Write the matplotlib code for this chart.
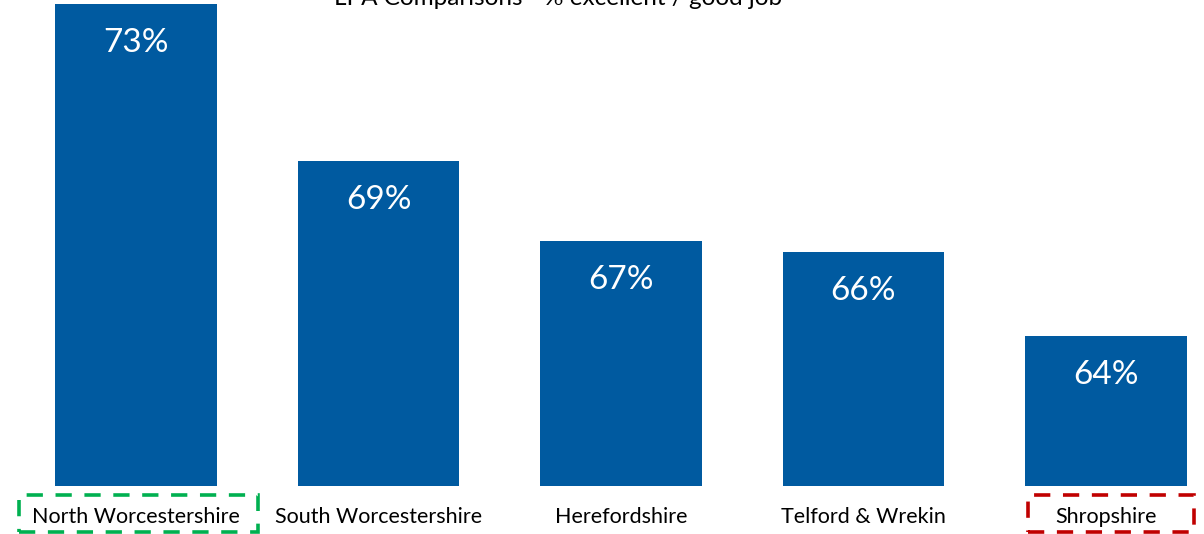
"""
LPA comparison bar chart - % excellent / good job
"""

# %% Imports
import matplotlib.pyplot as plt
from matplotlib.patches import Rectangle

# %% Data
areas = ["North Worcestershire", "South Worcestershire", "Herefordshire", "Telford & Wrekin", "Shropshire"]
pct_good = [73.2, 68.9, 66.7, 66.4, 64.1]
title = "LPA Comparisons - % excellent / good job"

BAR_COLOUR = "#005AA0"

plt.rcParams.update({"font.family": ["Lato", "DejaVu Sans"]})

# %% Plot
W, H = 1204, 534
fig = plt.figure(figsize=(W / 100, H / 100), dpi=100)
ax = fig.add_axes([0, 48 / H, 1, 486 / H])

x = list(range(len(areas)))
bars = ax.bar(x, pct_good, width=0.664, color=BAR_COLOUR, bottom=0)
ax.set_xlim(-136 / 242.5, (W - 136) / 242.5)
ax.set_ylim(60, 60 + 486 / 36.5)

for b, v in zip(bars, pct_good):
    ax.annotate(f"{v:.0f}%", (b.get_x() + b.get_width() / 2, v), xytext=(0, -39),
                textcoords="offset pixels", ha="center", va="center", color="white", fontsize=24)

ax.set_xticks(x)
ax.set_xticklabels(areas, fontsize=15.5)
ax.tick_params(axis="x", length=0, pad=15)
ax.set_yticks([])
for s in ax.spines.values():
    s.set_visible(False)

# title sits partly off the top edge, as in the source slide
fig.text(558 / W, 1 - 5 / H, title, ha="center", va="baseline", fontsize=17.5)

# dashed highlight boxes (best / worst)
for (x0, x1, col) in [(19, 258, "#00B050"), (1028, 1194, "#C00000")]:
    fig.patches.append(Rectangle((x0 / W, 2 / H), (x1 - x0) / W, 37 / H, transform=fig.transFigure,
                                 fill=False, edgecolor=col, lw=2.6, linestyle=(0, (4.5, 3.5))))

fig.savefig("out.png", dpi=100)
